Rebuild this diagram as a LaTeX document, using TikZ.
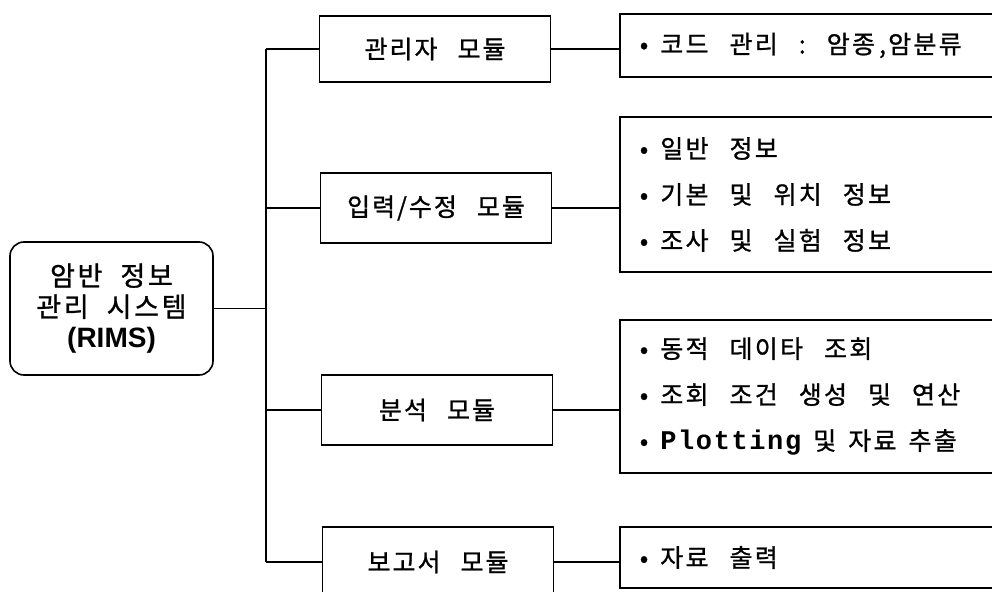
\documentclass[tikz,border=0pt]{standalone}
\usepackage{fontspec}
\usepackage{tikz}
\usetikzlibrary{calc}
\newfontfamily\kr{Noto Sans CJK KR}[LetterSpace=8,FakeBold=1]
\newfontfamily\krroot{Noto Sans CJK KR}[LetterSpace=10,FakeBold=1]
\newfontfamily\krdet{Noto Sans CJK KR}[LetterSpace=9,FakeBold=1]
\newfontfamily\cour{Liberation Mono}[LetterSpace=6]
\newfontfamily\arial{Liberation Sans}
\newcommand\itm{•\hspace{12pt}}

\tikzset{
  gap/.style={execute at begin node={\spaceskip=#1\xspaceskip=#1}},
  rootbox/.style={draw,line width=1.6pt,rounded corners=14pt,
    minimum width=203pt,minimum height=133pt,align=center,gap=18pt,
    font=\krroot\fontsize{27}{31}\selectfont},
  modbox/.style={draw,line width=1.6pt,minimum width=231pt,minimum height=70pt,
    gap=20pt,font=\kr\fontsize{25}{28}\selectfont},
  detbox/.style={draw,line width=1.6pt,anchor=west,text width=400pt,
    inner xsep=20pt,align=left,gap=21pt,font=\krdet\fontsize{25}{46}\selectfont},
  link/.style={line width=1.2pt}
}

\begin{document}
\begin{tikzpicture}[x=1pt,y=-1pt]
  \def\trunk{266} % x of the vertical bus
  \def\detx{619}  % left edge of the detail boxes

  % page frame (detail boxes run off the right edge)
  \useasboundingbox (0,0) rectangle (992,591);
  \clip (0,0) rectangle (992,591);

  % Root
  \node[rootbox] (root) at (111.5,308.5)
    {암반 정보\\관리 시스템\\{\arial\bfseries\fontsize{28}{31}\selectfont (RIMS)}};

  % Modules
  \node[modbox,minimum height=66pt] (mAdmin) at (435,49) {관리자 모듈};
  \node[modbox] (mInput)  at (436,208) {입력/수정 모듈};
  \node[modbox] (mAnal)   at (437,410) {분석 모듈};
  \node[modbox] (mReport) at (438,562) {보고서 모듈};

  % Details
  \node[detbox,minimum height=63pt]  (dAdmin)  at (\detx,45.5)
    {\itm 코드 관리 : 암종\hspace{4pt},암분류};
  \node[detbox,minimum height=155pt] (dInput)  at (\detx,194.5)
    {\itm 일반 정보\\\itm 기본 및 위치 정보\\\itm 조사 및 실험 정보};
  \node[detbox,minimum height=153pt] (dAnal)   at (\detx,396.5)
    {\itm 동적 데이타 조회\\\itm 조회 조건 생성 및 연산\\
     \itm {\spaceskip=12pt {\cour\bfseries\fontsize{27}{46}\selectfont Plotting} 및 자료 추출}};
  \node[detbox,minimum height=61pt]  (dReport) at (\detx,557.5) {\itm 자료 출력};

  % Bus
  \draw[link] (root.east) -- (root.east -| \trunk,0);
  \draw[link] (mAdmin.west -| \trunk,0) -- (mReport.west -| \trunk,0);
  \foreach \m in {mAdmin,mInput,mAnal,mReport}
    \draw[link] (\m.west) -- (\m.west -| \trunk,0);

  % Module to detail
  \draw[link] (mAdmin.east)  -- (mAdmin.east -| dAdmin.west);
  \draw[link] (mInput.east)  -- (mInput.east -| dInput.west);
  \draw[link] (mAnal.east)   -- (mAnal.east -| dAnal.west);
  \draw[link] (mReport.east) -- (mReport.east -| dReport.west);
\end{tikzpicture}
\end{document}
